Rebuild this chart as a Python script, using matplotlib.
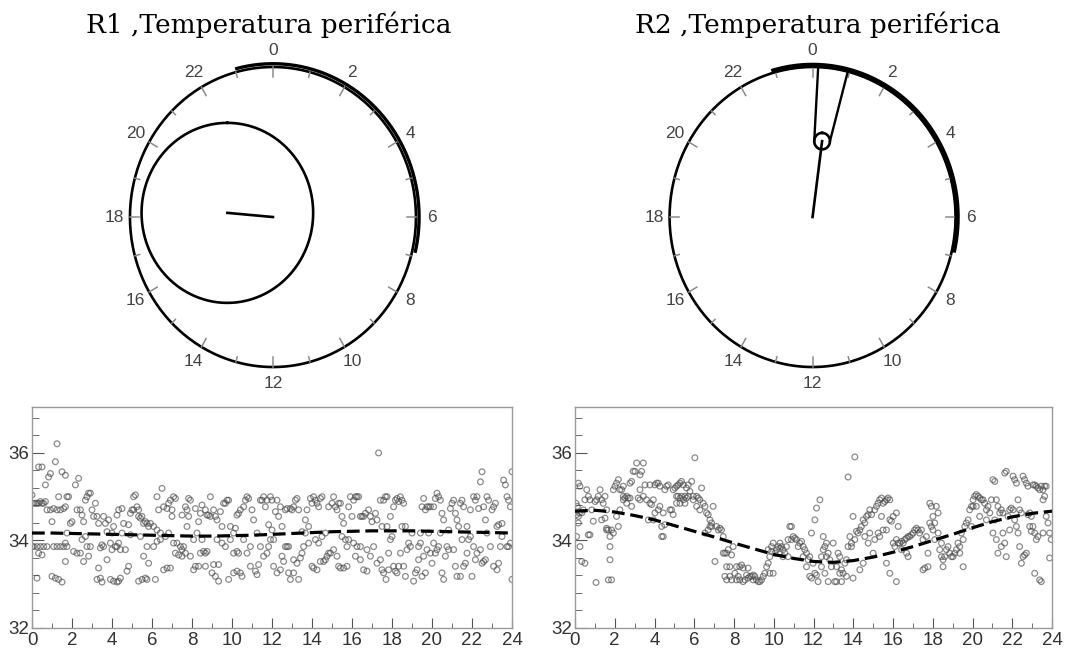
import numpy as np
import matplotlib.pyplot as plt
from matplotlib.ticker import MultipleLocator

# Temperatura periférica (hora do dia, °C) - R1
r1_pontos = [
    (0.00, 35.04), (0.08, 34.85), (0.17, 34.85), (0.25, 34.85), (0.33, 34.85), (0.42, 34.89), (0.50, 34.85),
    (0.58, 34.85), (0.67, 34.89), (0.08, 33.86), (0.25, 33.86), (0.42, 33.86), (0.58, 33.86), (0.75, 33.86),
    (0.33, 35.68), (0.50, 35.68), (0.25, 33.14), (0.33, 33.71), (0.50, 33.67), (0.67, 35.27), (0.83, 35.45),
    (0.92, 35.53), (0.75, 34.70), (0.92, 34.70), (1.00, 34.43), (0.02, 33.86),
    (1.17, 35.80), (1.25, 36.21), (1.33, 35.00), (1.50, 35.57), (1.67, 35.49), (1.00, 33.18), (1.17, 33.14),
    (1.33, 33.11), (1.50, 33.05), (1.08, 33.86), (1.25, 33.86), (1.42, 33.86), (1.58, 33.86), (1.67, 33.94),
    (1.75, 33.86), (1.08, 34.73), (1.25, 34.70), (1.42, 34.70), (1.58, 34.73), (1.67, 34.77), (1.75, 35.00),
    (1.83, 35.00), (1.67, 33.52), (1.75, 34.17), (1.92, 34.39), (2.00, 34.43),
    (2.17, 35.27), (2.33, 35.42), (2.25, 34.70), (2.42, 34.70), (2.08, 33.75), (2.25, 33.71), (2.42, 33.71),
    (2.50, 34.58), (2.58, 34.43), (2.58, 33.52), (2.67, 34.92), (2.75, 35.00), (2.83, 35.08), (2.92, 35.08),
    (2.75, 33.86), (2.92, 33.86), (2.83, 33.64), (3.00, 34.70), (3.08, 34.55), (2.50, 34.02), (2.67, 34.09),
    (3.17, 34.85), (3.25, 34.55), (3.33, 34.39), (3.42, 33.83), (3.33, 33.37), (3.25, 33.11), (3.42, 33.14),
    (3.50, 33.05), (3.58, 34.55), (3.67, 34.39), (3.75, 34.20), (3.75, 33.56), (3.83, 34.47), (3.92, 33.94),
    (4.00, 34.17), (3.92, 33.11), (3.58, 33.86), (3.50, 33.90), (4.08, 34.32), (4.00, 33.79),
    (4.08, 33.07), (4.25, 33.05), (4.33, 33.07), (4.42, 33.14), (4.17, 33.86), (4.25, 33.86), (4.33, 33.94),
    (4.42, 33.79), (4.25, 34.58), (4.33, 34.70), (4.50, 34.73), (4.58, 34.39), (4.50, 34.17), (4.67, 33.79),
    (4.75, 33.30), (4.83, 33.41), (4.83, 34.36), (4.92, 34.13), (4.92, 34.62), (5.00, 34.70),
    (5.08, 35.00), (5.17, 35.04), (5.08, 34.70), (5.25, 34.77), (5.33, 34.70), (5.33, 34.55), (5.42, 34.51),
    (5.50, 34.55), (5.58, 34.39), (5.67, 34.43), (5.75, 34.39), (5.83, 34.32), (5.92, 34.39), (5.33, 33.07),
    (5.50, 33.11), (5.67, 33.14), (5.75, 33.11), (5.58, 33.64), (5.83, 33.48), (5.42, 34.09), (5.75, 33.86),
    (6.08, 34.32), (6.25, 34.24), (6.42, 34.17), (6.17, 33.11), (6.50, 35.19), (6.58, 34.77), (6.75, 34.73),
    (6.83, 34.85), (6.92, 34.92), (6.33, 34.70), (6.25, 35.00), (6.58, 33.33), (6.75, 33.37), (6.92, 33.37),
    (6.25, 33.98), (6.42, 34.02), (6.67, 34.09), (6.83, 34.17), (6.08, 33.86), (7.00, 34.55),
    (7.08, 35.00), (7.17, 34.96), (7.00, 34.70), (7.08, 33.94), (7.25, 33.94), (7.42, 33.86), (7.50, 33.79),
    (7.17, 33.71), (7.33, 33.67), (7.50, 33.64), (7.58, 33.86), (7.67, 33.71), (7.75, 34.32), (7.83, 34.96),
    (7.92, 34.92), (7.50, 34.58), (7.67, 34.77), (7.75, 34.70), (7.83, 34.55), (7.92, 33.64),
    (8.08, 34.02), (8.17, 34.73), (8.25, 34.17), (8.33, 34.43), (8.42, 34.62), (8.08, 33.33), (8.17, 33.41),
    (8.33, 33.41), (8.42, 33.71), (8.58, 33.75), (8.67, 33.71), (8.75, 33.75), (8.50, 34.81), (8.67, 34.70),
    (8.83, 34.58), (8.92, 35.00), (8.75, 34.58), (8.92, 34.55), (8.50, 34.02), (8.67, 33.41),
    (9.08, 34.70), (9.17, 34.55), (9.25, 34.47), (9.33, 33.07), (9.17, 33.18), (9.00, 33.26), (9.08, 33.45),
    (9.33, 33.45), (9.42, 34.66), (9.50, 34.32), (9.58, 34.85), (9.67, 34.85), (9.75, 34.92), (9.83, 34.92),
    (9.92, 34.32), (9.83, 33.11), (9.50, 33.94), (9.67, 33.86), (9.92, 34.02), (9.25, 34.02),
    (10.08, 34.17), (10.17, 34.28), (10.25, 34.58), (10.33, 34.62), (10.42, 34.70), (10.08, 33.71),
    (10.25, 33.75), (10.33, 33.71), (10.08, 33.26), (10.25, 33.30), (10.42, 33.26), (10.50, 33.18),
    (10.58, 34.77), (10.67, 34.92), (10.75, 35.00), (10.83, 34.96), (10.58, 34.02), (10.75, 33.71),
    (10.92, 33.86), (10.92, 33.41),
    (11.00, 34.70), (11.08, 34.47), (11.17, 33.30), (11.25, 33.22), (11.33, 33.45), (11.42, 34.92),
    (11.50, 34.92), (11.58, 35.00), (11.67, 34.77), (11.75, 34.92), (11.83, 34.36), (11.92, 35.00),
    (12.00, 34.92), (11.75, 33.71), (11.92, 34.02), (11.58, 33.64), (11.42, 33.86), (11.25, 34.17),
    (11.83, 33.86), (12.00, 34.24),
    (12.08, 34.02), (12.17, 34.66), (12.25, 34.92), (12.33, 34.55), (12.42, 34.77), (12.50, 34.32),
    (12.08, 33.41), (12.25, 33.26), (12.42, 33.33), (12.58, 33.52), (12.67, 33.86), (12.75, 33.86),
    (12.83, 33.26), (12.92, 33.11), (12.67, 34.70), (12.75, 34.73), (12.92, 34.73), (13.00, 34.70),
    (12.50, 33.64), (12.83, 33.86),
    (13.08, 34.77), (13.17, 34.92), (13.25, 34.96), (13.33, 34.70), (13.08, 33.56), (13.25, 33.48),
    (13.42, 33.60), (13.08, 33.26), (13.50, 33.71), (13.58, 33.86), (13.67, 34.47), (13.75, 34.70),
    (13.83, 34.32), (13.92, 34.96), (14.00, 34.85), (13.50, 34.20), (13.67, 34.17), (13.83, 33.94),
    (13.33, 33.11), (14.00, 33.41),
    (14.08, 35.00), (14.17, 34.92), (14.25, 34.85), (14.33, 34.77), (14.42, 34.96), (14.50, 35.00),
    (14.08, 33.37), (14.25, 33.33), (14.42, 33.52), (14.58, 33.52), (14.67, 33.56), (14.75, 33.64),
    (14.83, 33.71), (14.92, 33.71), (14.17, 34.02), (14.33, 33.94), (14.50, 34.09), (14.67, 34.17),
    (14.83, 34.77), (15.00, 34.85),
    (15.08, 35.00), (15.17, 34.77), (15.25, 34.70), (15.33, 34.85), (15.42, 34.85), (15.50, 34.55),
    (15.58, 34.39), (15.08, 33.79), (15.25, 33.64), (15.33, 33.41), (15.42, 33.37), (15.58, 33.37),
    (15.75, 33.41), (15.83, 34.77), (15.92, 35.00), (15.67, 34.02), (15.83, 34.02), (15.75, 33.86),
    (15.50, 34.09), (16.00, 34.55),
    (16.08, 34.92), (16.17, 35.00), (16.25, 35.00), (16.33, 35.00), (16.42, 34.55), (16.50, 34.55),
    (16.58, 34.55), (16.08, 33.94), (16.25, 33.86), (16.42, 33.86), (16.17, 33.64), (16.42, 33.56),
    (16.58, 33.33), (16.75, 33.30), (16.67, 34.62), (16.83, 34.70), (16.92, 34.55), (17.00, 34.43),
    (16.75, 33.79), (16.92, 33.64),
    (17.08, 33.86), (17.17, 34.62), (17.25, 34.47), (17.33, 36.00), (17.42, 34.92), (17.50, 34.32),
    (17.58, 34.92), (17.67, 35.00), (17.75, 35.00), (17.25, 33.48), (17.42, 33.56), (17.50, 33.33),
    (17.58, 33.26), (17.70, 33.11), (17.83, 33.33), (17.92, 34.02), (17.75, 34.32), (17.83, 33.71),
    (17.92, 34.55), (18.00, 34.09),
    (18.08, 34.77), (18.17, 34.92), (18.25, 34.96), (18.33, 34.89), (18.42, 35.00), (18.50, 34.92),
    (18.58, 34.85), (18.08, 33.41), (18.17, 33.30), (18.25, 33.26), (18.33, 33.41), (18.42, 33.71),
    (18.58, 33.41), (18.67, 33.18), (18.75, 33.79), (18.83, 33.94), (18.92, 33.86), (18.67, 34.32),
    (18.50, 34.32), (19.00, 34.17),
    (19.08, 33.07), (19.17, 33.26), (19.25, 33.33), (19.33, 33.86), (19.42, 33.94), (19.50, 34.77),
    (19.58, 34.96), (19.67, 34.70), (19.75, 34.77), (19.83, 34.77), (19.92, 34.77), (19.33, 33.56),
    (19.58, 33.64), (19.75, 33.79), (19.92, 33.71), (20.00, 33.48), (19.50, 33.18), (19.42, 34.17),
    (19.83, 34.17), (19.67, 33.26),
    (20.08, 34.77), (20.17, 34.96), (20.25, 35.08), (20.33, 35.00), (20.42, 34.92), (20.50, 34.62),
    (20.58, 34.47), (20.08, 33.94), (20.17, 33.71), (20.25, 33.79), (20.33, 33.86), (20.50, 33.26),
    (20.58, 33.11), (20.67, 33.64), (20.75, 33.86), (20.83, 33.79), (20.92, 34.73), (21.00, 34.85),
    (20.42, 34.17), (20.83, 34.24),
    (21.08, 34.92), (21.17, 34.62), (21.25, 34.47), (21.33, 34.32), (21.42, 34.85), (21.50, 34.92),
    (21.58, 34.77), (21.08, 33.79), (21.17, 33.41), (21.25, 33.18), (21.42, 33.18), (21.58, 33.41),
    (21.67, 33.48), (21.75, 33.71), (21.83, 34.02), (21.92, 34.09), (22.00, 33.18), (21.75, 34.32),
    (21.92, 34.70), (21.50, 34.02),
    (22.08, 35.00), (22.17, 34.92), (22.25, 35.00), (22.33, 34.73), (22.42, 35.34), (22.50, 35.57),
    (22.58, 34.77), (22.67, 34.47), (22.08, 33.86), (22.17, 33.56), (22.25, 33.71), (22.42, 33.79),
    (22.50, 33.48), (22.58, 33.52), (22.67, 33.56), (22.75, 35.00), (22.83, 34.92), (22.92, 33.86),
    (23.00, 34.70), (22.75, 34.17),
    (23.08, 34.77), (23.17, 34.85), (23.25, 34.32), (23.33, 34.36), (23.08, 33.41), (23.25, 33.33),
    (23.33, 33.48), (23.42, 33.86), (23.50, 34.09), (23.58, 35.38), (23.67, 35.27), (23.75, 35.00),
    (23.83, 34.92), (23.92, 33.94), (24.00, 35.57), (24.00, 33.11), (23.50, 34.39), (23.75, 33.86),
    (23.92, 34.77), (23.83, 33.86),
]

# Temperatura periférica (hora do dia, °C) - R2
r2_pontos = [
    (0.05, 34.85), (0.12, 34.78), (0.17, 35.31), (0.25, 35.24), (0.22, 34.63), (0.34, 34.63), (0.42, 34.70),
    (0.50, 34.93), (0.08, 34.09), (0.17, 34.40), (0.25, 33.86), (0.34, 33.52), (0.50, 33.48), (0.59, 35.16),
    (0.67, 35.01), (0.75, 34.93), (0.67, 34.13), (0.75, 34.13), (0.84, 34.70), (0.92, 34.44), (1.01, 34.89),
    (0.08, 34.59), (0.17, 34.55),
    (1.06, 33.04), (1.09, 34.93), (1.17, 35.01), (1.26, 35.16), (1.34, 34.93), (1.42, 34.85), (1.51, 35.01),
    (1.59, 34.70), (1.59, 34.24), (1.68, 34.24), (1.76, 34.09), (1.76, 33.86), (1.76, 33.56), (1.68, 33.10),
    (1.84, 33.10), (1.84, 34.24), (1.93, 34.17), (1.93, 35.16), (2.01, 35.24), (1.34, 34.47), (1.51, 34.51),
    (1.59, 34.28),
    (2.09, 35.31), (2.18, 35.39), (2.26, 35.16), (2.35, 35.16), (2.43, 35.24), (2.43, 35.01), (2.51, 34.97),
    (2.60, 35.01), (2.68, 34.97), (2.77, 35.31), (2.85, 35.35), (2.93, 35.58), (3.02, 35.58), (2.26, 34.70),
    (2.18, 34.32), (2.09, 34.55), (2.43, 34.93), (2.60, 34.85), (2.77, 34.97), (2.85, 34.78),
    (3.10, 35.77), (3.27, 35.50), (3.35, 35.58), (3.44, 35.77), (3.18, 34.97), (3.27, 34.93), (3.44, 35.01),
    (3.60, 34.93), (3.77, 34.85), (3.85, 34.82), (3.94, 34.93), (4.02, 34.63), (3.69, 34.47), (3.94, 34.47),
    (3.27, 35.16), (3.52, 35.27), (3.77, 35.27), (4.02, 35.27),
    (4.11, 35.31), (4.19, 35.31), (4.27, 35.24), (4.36, 34.32), (4.36, 34.09), (4.44, 34.09), (4.52, 34.36),
    (4.52, 35.16), (4.61, 35.24), (4.69, 35.27), (4.78, 34.70), (4.86, 34.70), (4.94, 34.59), (4.94, 35.16),
    (4.44, 34.63), (4.27, 34.78), (4.19, 34.70),
    (5.03, 35.20), (5.11, 35.24), (5.19, 35.27), (5.28, 35.31), (5.36, 35.35), (5.45, 35.27), (5.11, 35.01),
    (5.19, 35.01), (5.28, 34.97), (5.36, 35.01), (5.45, 34.93), (5.53, 35.01), (5.61, 34.97), (5.70, 35.01),
    (5.61, 35.20), (5.70, 35.27), (5.78, 35.12), (5.87, 35.35), (5.95, 35.01), (5.95, 34.93), (5.11, 34.85),
    (5.28, 34.85), (5.53, 34.85),
    (6.03, 35.89), (6.12, 35.01), (6.20, 34.97), (6.12, 34.78), (6.28, 34.93), (6.37, 35.20), (6.45, 34.85),
    (6.54, 34.78), (6.62, 34.63), (6.70, 34.59), (6.79, 34.47), (6.87, 34.40), (6.95, 34.78), (6.87, 34.32),
    (6.54, 34.17), (6.70, 34.24), (6.79, 34.32), (6.28, 34.70),
    (7.04, 33.52), (7.12, 34.32), (7.21, 34.24), (7.29, 34.28), (7.37, 34.24), (7.46, 34.09), (7.46, 33.71),
    (7.54, 33.71), (7.63, 33.71), (7.71, 33.79), (7.54, 33.18), (7.63, 33.10), (7.79, 33.18), (7.88, 33.10),
    (7.63, 33.40), (7.79, 33.40), (7.96, 33.86), (7.88, 33.67),
    (8.04, 33.25), (8.13, 33.10), (8.21, 33.18), (8.29, 33.10), (8.38, 33.44), (8.46, 33.37), (8.55, 33.10),
    (8.63, 33.21), (8.71, 33.14), (8.80, 33.18), (8.88, 33.18), (8.97, 33.10), (8.13, 33.40), (8.29, 33.40),
    (8.46, 33.06), (8.71, 33.37), (8.97, 33.21),
    (9.05, 33.18), (9.13, 33.10), (9.22, 33.06), (9.30, 33.06), (9.38, 33.10), (9.47, 33.18), (9.55, 33.25),
    (9.64, 33.40), (9.72, 33.48), (9.80, 33.63), (9.89, 33.75), (9.97, 33.94), (9.80, 33.25), (9.97, 33.25),
    (9.89, 33.86), (9.72, 33.79),
    (10.06, 33.71), (10.14, 33.79), (10.22, 33.86), (10.31, 33.94), (10.39, 33.86), (10.47, 33.79),
    (10.56, 33.71), (10.64, 33.86), (10.72, 34.02), (10.81, 34.32), (10.89, 34.32), (10.98, 34.09),
    (10.89, 34.02), (10.72, 33.63), (10.47, 33.63), (10.31, 33.82),
    (11.06, 34.05), (11.14, 34.02), (11.23, 33.86), (11.31, 33.94), (11.40, 33.98), (11.48, 33.86),
    (11.56, 33.79), (11.65, 33.71), (11.73, 33.56), (11.81, 33.63), (11.90, 34.17), (11.98, 33.48),
    (11.81, 33.18), (11.90, 33.14), (11.48, 33.63), (11.65, 33.40),
    (12.07, 33.25), (12.15, 33.21), (12.23, 33.06), (12.07, 34.47), (12.15, 34.74), (12.32, 34.93),
    (12.40, 33.63), (12.49, 33.79), (12.57, 33.86), (12.65, 33.94), (12.74, 33.71), (12.82, 33.56),
    (12.90, 33.40), (12.99, 33.94), (12.40, 33.40), (12.57, 33.25), (12.74, 33.06), (12.49, 34.09),
    (12.65, 33.63),
    (13.07, 33.06), (13.16, 33.40), (13.24, 33.71), (13.32, 33.63), (13.32, 33.25), (13.41, 33.33),
    (13.49, 33.25), (13.58, 33.48), (13.66, 33.56), (13.74, 33.86), (13.83, 34.09), (13.91, 33.94),
    (13.74, 35.45), (13.91, 33.86), (13.99, 33.14), (13.16, 33.06), (13.41, 33.06), (13.66, 33.18),
    (14.08, 35.91), (13.99, 34.55), (14.08, 34.02), (14.16, 34.21), (14.24, 34.17), (14.33, 34.24),
    (14.41, 34.32), (14.50, 34.47), (14.58, 34.40), (14.67, 34.55), (14.75, 34.59), (14.83, 34.70),
    (14.92, 34.59), (14.33, 33.33), (14.50, 33.48), (14.75, 33.94), (14.83, 34.17), (15.00, 33.71),
    (14.58, 34.09),
    (15.08, 34.70), (15.17, 34.78), (15.25, 34.85), (15.33, 34.93), (15.42, 34.97), (15.50, 34.85),
    (15.59, 34.89), (15.67, 34.93), (15.75, 34.97), (15.84, 34.93), (15.08, 34.02), (15.25, 34.17),
    (15.33, 34.09), (15.50, 34.24), (15.67, 34.24), (15.84, 34.47), (15.92, 34.44), (16.01, 34.55),
    (15.67, 33.48), (15.84, 33.25), (16.01, 33.94), (15.42, 34.55),
    (16.09, 33.86), (16.17, 33.06), (16.17, 34.02), (16.26, 33.94), (16.34, 33.94), (16.43, 33.98),
    (16.51, 33.94), (16.59, 34.02), (16.68, 34.05), (16.76, 34.09), (16.84, 34.09), (16.93, 34.13),
    (16.17, 34.63), (16.26, 34.32), (16.43, 33.79), (16.68, 33.71), (16.76, 33.63),
    (17.01, 34.17), (17.09, 34.24), (17.18, 34.28), (17.26, 34.24), (17.34, 34.17), (17.43, 34.24),
    (17.51, 33.33), (17.60, 33.37), (17.76, 33.40), (17.85, 34.85), (17.93, 34.78), (17.85, 34.40),
    (17.93, 34.32), (18.01, 34.24), (17.68, 34.09), (17.51, 34.02), (17.76, 33.71),
    (18.01, 34.55), (18.10, 34.40), (18.18, 34.78), (18.27, 34.63), (18.35, 33.79), (18.44, 33.63),
    (18.52, 33.56), (18.60, 33.63), (18.69, 33.79), (18.77, 33.86), (18.85, 33.71), (18.94, 33.63),
    (18.52, 33.40), (18.44, 33.94), (18.27, 34.17), (18.10, 34.02),
    (19.02, 33.63), (19.11, 33.71), (19.19, 33.79), (19.27, 33.94), (19.36, 33.86), (19.44, 34.17),
    (19.53, 34.02), (19.61, 34.32), (19.69, 34.40), (19.78, 34.47), (19.86, 34.70), (19.95, 34.78),
    (19.36, 33.71), (19.53, 33.40),
    (20.03, 34.93), (20.11, 35.01), (20.19, 35.05), (20.28, 35.01), (20.36, 34.97), (20.45, 34.93),
    (20.53, 34.93), (20.61, 34.85), (20.19, 34.78), (20.03, 34.78), (20.70, 34.70), (20.78, 34.78),
    (20.87, 34.63), (20.95, 34.93), (20.36, 34.55), (19.95, 34.32), (20.70, 34.47),
    (21.03, 35.39), (21.12, 35.35), (21.20, 34.93), (21.28, 34.78), (21.37, 34.63), (21.45, 34.70),
    (21.53, 34.63), (21.62, 35.54), (21.70, 35.58), (21.79, 34.55), (21.87, 34.70), (21.95, 34.74),
    (21.03, 34.17), (21.20, 34.02), (21.28, 33.71), (21.45, 33.86), (21.62, 33.94), (21.70, 33.63),
    (21.87, 34.24), (21.12, 34.47), (21.53, 34.17),
    (22.04, 35.47), (22.12, 35.39), (22.21, 35.31), (22.29, 34.93), (22.37, 34.70), (22.46, 34.63),
    (22.54, 35.47), (22.62, 35.39), (22.71, 35.31), (22.79, 35.24), (22.88, 34.63), (22.96, 34.55),
    (22.04, 34.70), (22.12, 34.47), (22.21, 34.32), (22.29, 34.17), (22.37, 33.86), (22.46, 33.48),
    (22.54, 33.63), (22.62, 33.67), (22.71, 33.71), (22.79, 34.59), (22.88, 34.32), (22.96, 34.21),
    (23.04, 35.27), (23.13, 35.27), (23.21, 35.24), (23.29, 35.20), (23.38, 35.16), (23.46, 35.24),
    (23.55, 35.16), (23.63, 35.24), (23.71, 35.24), (23.04, 34.32), (23.13, 34.17), (23.21, 34.02),
    (23.29, 34.09), (23.38, 33.10), (23.46, 33.06), (23.55, 34.93), (23.63, 35.01), (23.71, 34.55),
    (23.80, 34.40), (23.88, 34.17), (23.96, 34.02), (23.88, 33.60), (23.13, 33.25), (23.55, 34.17),
]

# curva ajustada (cosinor), valor a cada hora 0..24
horas_ajuste = list(range(25))
r1_ajuste = [34.17, 34.17, 34.16, 34.15, 34.14, 34.13, 34.12, 34.11, 34.10, 34.10, 34.11, 34.12, 34.14,
             34.16, 34.18, 34.20, 34.21, 34.22, 34.22, 34.22, 34.21, 34.20, 34.19, 34.18, 34.17]
r2_ajuste = [34.67, 34.69, 34.65, 34.57, 34.47, 34.34, 34.21, 34.08, 33.94, 33.81, 33.68, 33.59, 33.52,
             33.50, 33.54, 33.62, 33.73, 33.86, 34.00, 34.14, 34.29, 34.43, 34.54, 34.62, 34.67]

# parâmetros dos relógios (horas)
titulos = ["R1 ,Temperatura periférica", "R2 ,Temperatura periférica"]
r1_arco = (23.0, 6.9)        # intervalo do arco grosso
r1_vetor = (18.33, 0.32)     # (hora, comprimento relativo)
r1_raio_conf = 0.60
r2_arco = (22.9, 6.9)
r2_vetor = (0.50, 0.51)
r2_raio_conf = 0.055
r2_ic = (0.15, 0.95)         # limites do intervalo de confiança da acrofase


def hxy(h, r):
    ang = 2 * np.pi * np.asarray(h) / 24.0
    return r * np.sin(ang), r * np.cos(ang)


def relogio(ax, arco, arco_r, arco_lw, vetor, raio_conf, ic=None):
    t = np.linspace(0, 24, 400)
    x, y = hxy(t, 1.0)
    ax.plot(x, y, color='black', lw=1.9, solid_capstyle='butt')
    # marcas das horas (pares mais longas)
    for h in range(24):
        r_in = 0.935 if h % 2 == 0 else 0.965
        x0, y0 = hxy(h, r_in)
        x1, y1 = hxy(h, 1.0)
        ax.plot([x0, x1], [y0, y1], color='#8a8a8a', lw=1.1)
        if h % 2 == 0:
            xl, yl = hxy(h, 1.11)
            ax.text(xl, yl, str(h), ha='center', va='center', fontsize=12.5,
                    color='#444444', family='Liberation Sans')
    # arco grosso
    ini, fim = arco
    if fim < ini:
        fim += 24
    ta = np.linspace(ini, fim, 200)
    xa, ya = hxy(ta, arco_r)
    ax.plot(xa, ya, color='black', lw=arco_lw, solid_capstyle='butt')
    # vetor médio
    vx, vy = hxy(vetor[0], vetor[1])
    ax.plot([0, vx], [0, vy], color='black', lw=1.9)
    cx, cy = hxy(t, raio_conf)
    ax.plot(vx + cx, vy + cy, color='black', lw=1.9)
    if ic is not None:
        for h, lado in zip(ic, (-1, 1)):
            ex, ey = hxy(h, 0.995)
            ax.plot([vx + lado * raio_conf, ex], [vy, ey], color='black', lw=1.7)
    ax.set_xlim(-1.2, 1.2)
    ax.set_ylim(-1.2, 1.2)
    ax.axis('off')


def dispersao(ax, pontos, ajuste):
    pts = np.array(pontos)
    ax.scatter(pts[:, 0], pts[:, 1], s=17, facecolors='none',
               edgecolors=(0.3, 0.3, 0.3, 0.65), linewidths=0.9, zorder=2)
    ax.plot(horas_ajuste, ajuste, color='black', lw=2.3, dashes=(4, 1.8), zorder=3)
    ax.set_xlim(0, 24)
    ax.set_ylim(32, 37.05)
    ax.xaxis.set_major_locator(MultipleLocator(2))
    ax.xaxis.set_minor_locator(MultipleLocator(1))
    ax.yaxis.set_major_locator(MultipleLocator(2))
    ax.yaxis.set_minor_locator(MultipleLocator(0.4))
    ax.tick_params(which='both', direction='in', colors='#555555', labelcolor='#333333',
                   labelsize=13.5, top=False, right=False)
    ax.tick_params(axis='x', which='major', length=7, pad=3)
    ax.tick_params(axis='x', which='minor', length=3.5)
    ax.tick_params(axis='y', which='major', length=8.5, pad=2)
    ax.tick_params(axis='y', which='minor', length=5)
    for lab in ax.get_xticklabels() + ax.get_yticklabels():
        lab.set_family('Liberation Sans')
    for sp in ax.spines.values():
        sp.set_color('#999999')
        sp.set_linewidth(1.0)


fig = plt.figure(figsize=(10.84, 6.48), dpi=100)

ax1 = fig.add_axes([0.0935, 0.3873, 0.3166, 0.5556])
relogio(ax1, r1_arco, 1.022, 2.4, r1_vetor, r1_raio_conf)
ax2 = fig.add_axes([0.5913, 0.3873, 0.3166, 0.5556])
relogio(ax2, r2_arco, 1.012, 3.6, r2_vetor, r2_raio_conf, ic=r2_ic)

fig.text(269 / 1084, 1 - 33 / 648, titulos[0], ha='center', va='baseline',
         fontsize=19, family='DejaVu Serif')
fig.text(818 / 1084, 1 - 33 / 648, titulos[1], ha='center', va='baseline',
         fontsize=19, family='DejaVu Serif')

ax3 = fig.add_axes([32 / 1084, 1 - 628 / 648, 480 / 1084, 221 / 648])
dispersao(ax3, r1_pontos, r1_ajuste)
ax4 = fig.add_axes([575 / 1084, 1 - 628 / 648, 477 / 1084, 221 / 648])
dispersao(ax4, r2_pontos, r2_ajuste)

fig.savefig('out.png', dpi=100)
